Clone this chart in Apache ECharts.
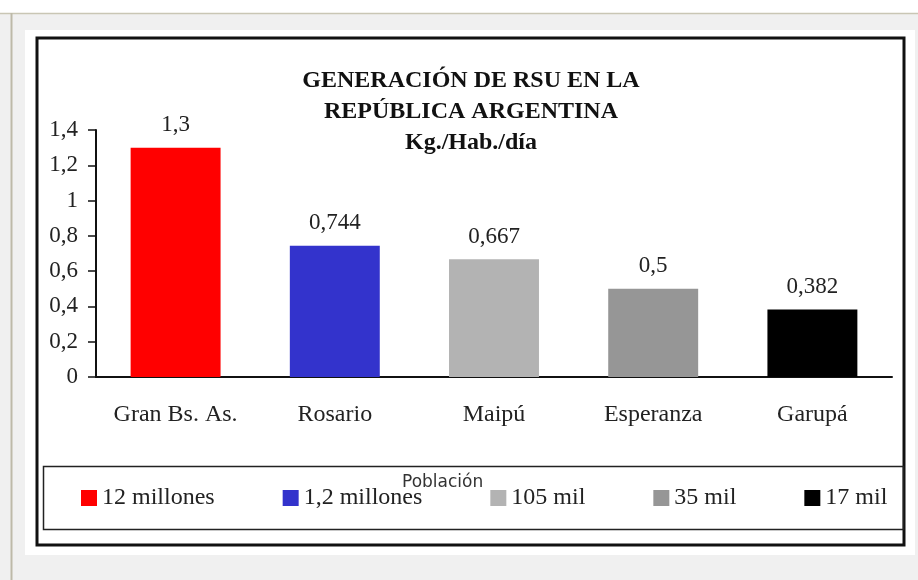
<!DOCTYPE html>
<html>
<head>
<meta charset="utf-8">
<script src="https://cdn.jsdelivr.net/npm/echarts@6/dist/echarts.min.js"></script>
<style>
html,body{margin:0;padding:0;background:#fff;}
#c{width:918px;height:580px;}
</style>
</head>
<body>
<div id="c"></div>
<script>
const categories = ['Gran Bs. As.', 'Rosario', 'Maipú', 'Esperanza', 'Garupá'];
const values = [1.3, 0.744, 0.667, 0.5, 0.382];
const populations = ['12 millones', '1,2 millones', '105 mil', '35 mil', '17 mil'];
const colors = ['#ff0000', '#3333cc', '#b3b3b3', '#969696', '#000000'];
const yTicks = { min: 0, max: 1.4, interval: 0.2 };
const titleLines = ['GENERACIÓN DE RSU EN LA', 'REPÚBLICA ARGENTINA', 'Kg./Hab./día'];
const legendTitle = 'Población';

const SERIF = "'Liberation Serif','Times New Roman',serif";
const comma = v => String(Number(Number(v).toFixed(3))).replace('.', ',');

const series = populations.map((name, i) => ({
  name: name,
  type: 'bar',
  stack: 'total',
  barCategoryGap: '43.5%',
  itemStyle: { color: colors[i] },
  label: {
    show: true, position: 'top', distance: 11,
    fontFamily: SERIF, fontSize: 23, color: '#222',
    formatter: p => comma(p.value)
  },
  data: values.map((v, j) => (j === i ? v : '-'))
}));

const chart = echarts.init(document.getElementById('c'), null, { renderer: 'canvas' });
chart.setOption({
  backgroundColor: '#ffffff',
  animation: false,
  title: {
    text: titleLines.join('\n'),
    left: 466, top: 60, textAlign: 'center',
    textStyle: { fontFamily: SERIF, fontWeight: 'bold', fontSize: 24, lineHeight: 31, color: '#111' }
  },
  graphic: [
    { type: 'rect', z: -10, shape: { x: 0, y: 13, width: 918, height: 567 }, style: { fill: '#f0f0f0' } },
    { type: 'line', z: -9, shape: { x1: 0, y1: 13.5, x2: 918, y2: 13.5 }, style: { stroke: '#c9c6b4', lineWidth: 1.5 } },
    { type: 'line', z: -9, shape: { x1: 11.5, y1: 13, x2: 11.5, y2: 580 }, style: { stroke: '#bdb9a8', lineWidth: 2 } },
    { type: 'rect', z: -8, shape: { x: 25, y: 30, width: 890, height: 525 }, style: { fill: '#ffffff' } },
    { type: 'rect', z: -7, shape: { x: 37, y: 38, width: 867, height: 507 }, style: { fill: 'none', stroke: '#111', lineWidth: 3 } },
    { type: 'rect', z: -7, shape: { x: 43.5, y: 466.5, width: 860, height: 63 }, style: { fill: 'none', stroke: '#222', lineWidth: 1.5 } },
    { type: 'text', z: 10, left: 402, top: 474, style: { text: legendTitle, font: "17px 'DejaVu Sans', sans-serif", fill: '#333' } }
  ],
  legend: {
    left: 81, top: 486, padding: 0,
    itemWidth: 16, itemHeight: 16, itemGap: 68,
    icon: 'rect',
    textStyle: { fontFamily: SERIF, fontSize: 24, lineHeight: 24, color: '#222' },
    data: populations
  },
  grid: { left: 96, right: 26, top: 130, bottom: 203, containLabel: false },
  xAxis: {
    type: 'category',
    data: categories,
    axisLine: { lineStyle: { color: '#111', width: 2 } },
    axisTick: { show: false },
    axisLabel: { interval: 0, fontFamily: SERIF, fontSize: 24, color: '#222', margin: 26 }
  },
  yAxis: {
    type: 'value',
    min: yTicks.min, max: yTicks.max, interval: yTicks.interval,
    splitLine: { show: false },
    axisLine: { show: true, lineStyle: { color: '#111', width: 2 } },
    axisTick: { show: true, length: 8, lineStyle: { color: '#111', width: 1.5 } },
    axisLabel: { fontFamily: SERIF, fontSize: 23, color: '#222', margin: 18, formatter: v => comma(Number(v.toFixed(1))) }
  },
  series: series
});
</script>
</body>
</html>
